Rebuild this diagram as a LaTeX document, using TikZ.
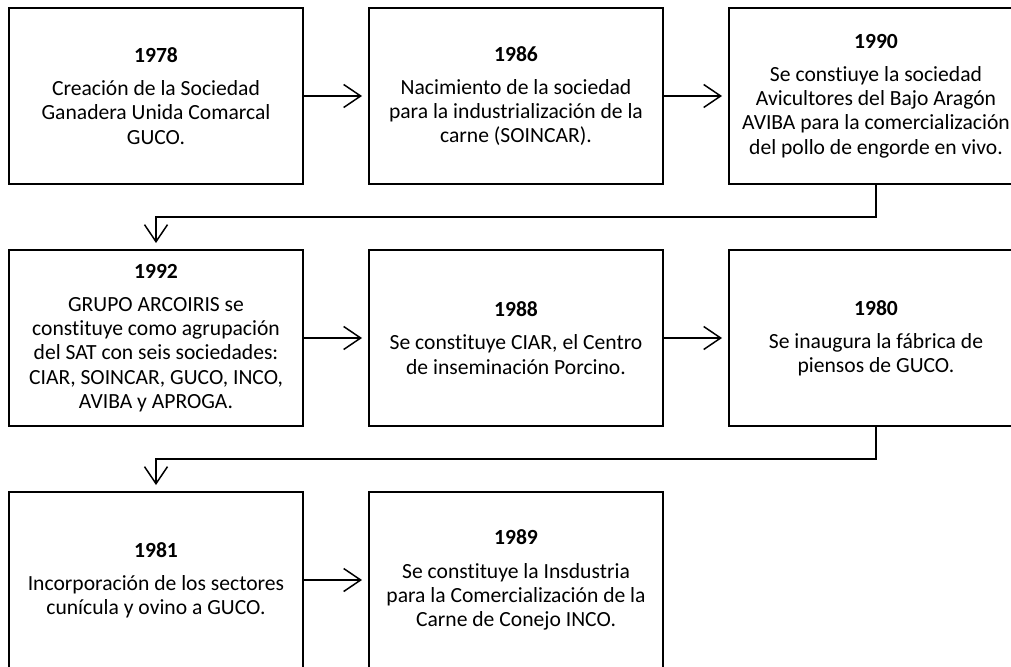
\documentclass[tikz,border=0pt]{standalone}
\usepackage{fontspec}
\setmainfont{Carlito}[Ligatures=NoCommon]
\usetikzlibrary{arrows.meta}
\begin{document}
\begin{tikzpicture}[x=1pt,y=-1pt,
  box/.style={draw, line width=2.2pt, minimum width=294pt, minimum height=176pt, inner sep=0pt, outer sep=0pt},
  txt/.style={align=center, font=\fontsize{21.6}{24.2}\selectfont, inner sep=0pt},
  conn/.style={line width=1.5pt, -{Straight Barb[length=17pt,width=23pt]}, shorten >=7pt}]
\useasboundingbox (0,0) rectangle (1011,666);
\clip (0,0) rectangle (1011,666);
% boxes
\node[box] (b1) at (156,96) {};
\node[box] (b2) at (516,96) {};
\node[box] (b3) at (876,96) {};
\node[box] (b4) at (156,338) {};
\node[box] (b5) at (516,338) {};
\node[box] (b6) at (876,338) {};
\node[box] (b7) at (156,580) {};
\node[box] (b8) at (516,580) {};
% texts
\node[txt] (t1) at (b1.center) {\textbf{1978}\\[9pt]Creación de la Sociedad\\Ganadera Unida Comarcal\\GUCO.};
\node[txt] (t2) at (b2.center) {\textbf{1986}\\[9pt]Nacimiento de la sociedad\\para la industrialización de la\\carne (SOINCAR).};
\node[txt] (t3) at (b3.center) {\textbf{1990}\\[9pt]Se constiuye la sociedad\\Avicultores del Bajo Aragón\\AVIBA para la comercialización\\del pollo de engorde en vivo.};
\node[txt] (t4) at (b4.center) {\textbf{1992}\\[9pt]GRUPO ARCOIRIS se\\constituye como agrupación\\del SAT con seis sociedades:\\CIAR, SOINCAR, GUCO, INCO,\\AVIBA y APROGA.};
\node[txt] (t5) at (b5.center) {\textbf{1988}\\[9pt]Se constituye CIAR, el Centro\\de inseminación Porcino.};
\node[txt] (t6) at (b6.center) {\textbf{1980}\\[9pt]Se inaugura la fábrica de\\piensos de GUCO.};
\node[txt] (t7) at (b7.center) {\textbf{1981}\\[9pt]Incorporación de los sectores\\cunícula y ovino a GUCO.};
\node[txt] (t8) at (b8.center) {\textbf{1989}\\[9pt]Se constituye la Insdustria\\para la Comercialización de la\\Carne de Conejo INCO.};
% connectors
\draw[conn] (b1.east) -- (b2.west);
\draw[conn] (b2.east) -- (b3.west);
\draw[conn] (b3.south) -- ++(0,33) -| (b4.north);
\draw[conn] (b4.east) -- (b5.west);
\draw[conn] (b5.east) -- (b6.west);
\draw[conn] (b6.south) -- ++(0,33) -| (b7.north);
\draw[conn] (b7.east) -- (b8.west);
\end{tikzpicture}
\end{document}
